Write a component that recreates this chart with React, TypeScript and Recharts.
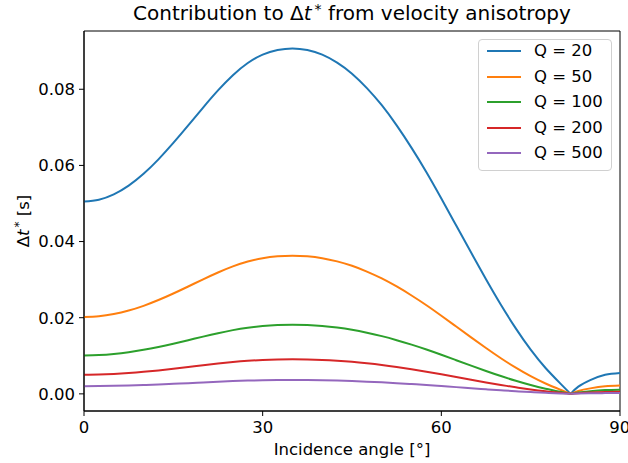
import React from "react";
import { LineChart, Line, XAxis, YAxis, ReferenceArea } from "recharts";

// incidence angle in degrees
const angles = [
  0, 2.5, 5, 7.5, 10, 12.5, 15, 17.5, 20, 22.5, 25, 27.5, 30, 32.5, 35, 37.5, 40, 42.5, 45, 47.5,
  50, 52.5, 55, 57.5, 60, 62.5, 65, 67.5, 70, 72.5, 75, 77.5, 80, 81.7, 83, 85, 87.5, 90,
];
// angle where the curves touch zero (the cusp)
const cusp = 81.7;

// Δt* [s], one list per Q
const q20 = [
  0.0505, 0.051, 0.0524, 0.0547, 0.0578, 0.0616, 0.0659, 0.0705, 0.0752, 0.0797, 0.0837, 0.0869, 0.0891, 0.0903, 0.0907, 0.0903, 0.0891, 0.087, 0.0841, 0.0803,
  0.0758, 0.0705, 0.0646, 0.0582, 0.0513, 0.0442, 0.0371, 0.0301, 0.0234, 0.0172, 0.0116, 0.0068, 0.0027, 0, 0.0019, 0.0036, 0.005, 0.0055,
];
const q50 = [
  0.0202, 0.0204, 0.02096, 0.02188, 0.02312, 0.02464, 0.02636, 0.0282, 0.03008, 0.03188, 0.03348, 0.03476, 0.03564, 0.03612, 0.03628, 0.03612, 0.03564, 0.0348, 0.03364, 0.03212,
  0.03032, 0.0282, 0.02584, 0.02328, 0.02052, 0.01768, 0.01484, 0.01204, 0.00936, 0.00688, 0.00464, 0.00272, 0.00108, 0, 0.00076, 0.00144, 0.002, 0.0022,
];
const q100 = [
  0.0101, 0.0102, 0.01048, 0.01094, 0.01156, 0.01232, 0.01318, 0.0141, 0.01504, 0.01594, 0.01674, 0.01738, 0.01782, 0.01806, 0.01814, 0.01806, 0.01782, 0.0174, 0.01682, 0.01606,
  0.01516, 0.0141, 0.01292, 0.01164, 0.01026, 0.00884, 0.00742, 0.00602, 0.00468, 0.00344, 0.00232, 0.00136, 0.00054, 0, 0.00038, 0.00072, 0.001, 0.0011,
];
const q200 = [
  0.00505, 0.0051, 0.00524, 0.00547, 0.00578, 0.00616, 0.00659, 0.00705, 0.00752, 0.00797, 0.00837, 0.00869, 0.00891, 0.00903, 0.00907, 0.00903, 0.00891, 0.0087, 0.00841, 0.00803,
  0.00758, 0.00705, 0.00646, 0.00582, 0.00513, 0.00442, 0.00371, 0.00301, 0.00234, 0.00172, 0.00116, 0.00068, 0.00027, 0, 0.00019, 0.00036, 0.0005, 0.00055,
];
const q500 = [
  0.00202, 0.00204, 0.0021, 0.00219, 0.00231, 0.00246, 0.00264, 0.00282, 0.00301, 0.00319, 0.00335, 0.00348, 0.00356, 0.00361, 0.00363, 0.00361, 0.00356, 0.00348, 0.00336, 0.00321,
  0.00303, 0.00282, 0.00258, 0.00233, 0.00205, 0.00177, 0.00148, 0.0012, 0.00094, 0.00069, 0.00046, 0.00027, 0.00011, 0, 0.00008, 0.00014, 0.0002, 0.00022,
];

const xTicks = [0, 30, 60, 90];
const yTicks = [0, 0.02, 0.04, 0.06, 0.08];

const series = [
  { key: "q20", name: "Q = 20", color: "#1f77b4", values: q20 },
  { key: "q50", name: "Q = 50", color: "#ff7f0e", values: q50 },
  { key: "q100", name: "Q = 100", color: "#2ca02c", values: q100 },
  { key: "q200", name: "Q = 200", color: "#d62728", values: q200 },
  { key: "q500", name: "Q = 500", color: "#9467bd", values: q500 },
];

// each curve is drawn as two smooth branches that meet at the cusp
const data = angles.map((a, i) => {
  const row: Record<string, number | null> = { angle: a };
  series.forEach((s) => {
    row[s.key + "L"] = a <= cusp ? s.values[i] : null;
    row[s.key + "R"] = a >= cusp ? s.values[i] : null;
  });
  return row;
});

const FONT = "'DejaVu Sans', sans-serif";
const yMin = -0.0045;
const yMax = 0.0953;

export default function App() {
  const tick = { fontSize: 16.5, fill: "#000", fontFamily: FONT };
  return (
    <div style={{ position: "absolute", left: 0, top: 0, width: 628, height: 463, background: "#fff", fontFamily: FONT }}>
      <LineChart width={628} height={463} data={data} margin={{ top: 31, right: 8, bottom: 0, left: 0 }}>
        <XAxis
          dataKey="angle"
          type="number"
          domain={[0, 90]}
          ticks={xTicks}
          tick={tick}
          tickSize={5}
          tickMargin={5}
          height={52}
          stroke="#000"
          tickLine={{ stroke: "#000" }}
        />
        <YAxis
          type="number"
          domain={[yMin, yMax]}
          allowDataOverflow
          ticks={yTicks}
          tickFormatter={(v: number) => v.toFixed(2)}
          tick={tick}
          tickSize={5}
          tickMargin={4}
          width={84}
          stroke="#000"
          tickLine={{ stroke: "#000" }}
        />
        <ReferenceArea x1={0} x2={90} y1={yMin} y2={yMax} fill="none" stroke="#000" strokeWidth={1} fillOpacity={0} />
        {series.flatMap((s) =>
          ["L", "R"].map((side) => (
            <Line
              key={s.key + side}
              dataKey={s.key + side}
              type="natural"
              stroke={s.color}
              strokeWidth={2}
              dot={false}
              connectNulls={false}
              isAnimationActive={false}
            />
          ))
        )}
      </LineChart>

      {/* title */}
      <div style={{ position: "absolute", left: 0, width: 704, top: 1, textAlign: "center", fontSize: 20, color: "#000", whiteSpace: "nowrap" }}>
        Contribution to Δ<i>t</i>
        <sup style={{ fontSize: 14, verticalAlign: 6, marginLeft: 3 }}>*</sup> from velocity anisotropy
      </div>

      {/* x label */}
      <div style={{ position: "absolute", left: 84, width: 536, top: 440, textAlign: "center", fontSize: 16.5, color: "#000" }}>
        Incidence angle [°]
      </div>

      {/* y label */}
      <div
        style={{
          position: "absolute",
          left: 22,
          top: 221,
          transform: "translate(-50%, -50%) rotate(-90deg)",
          fontSize: 16.5,
          color: "#000",
          whiteSpace: "nowrap",
        }}
      >
        Δ<i>t</i>
        <sup style={{ fontSize: 12, verticalAlign: 6, marginLeft: 2 }}>*</sup> [s]
      </div>

      {/* legend */}
      <div
        style={{
          position: "absolute",
          left: 478,
          top: 39,
          width: 134,
          height: 132,
          boxSizing: "border-box",
          border: "1px solid #d0d0d0",
          borderRadius: 4,
          background: "rgba(255,255,255,0.8)",
        }}
      >
        {series.map((s, i) => (
          <div key={s.key} style={{ position: "absolute", left: 0, top: i * 25.5, height: 22, width: 134 }}>
            <div style={{ position: "absolute", left: 8, top: 10, width: 34, height: 2, background: s.color }} />
            <div style={{ position: "absolute", left: 55, top: 0, fontSize: 16.5, lineHeight: "22px", color: "#000", whiteSpace: "nowrap" }}>
              {s.name}
            </div>
          </div>
        ))}
      </div>
    </div>
  );
}
